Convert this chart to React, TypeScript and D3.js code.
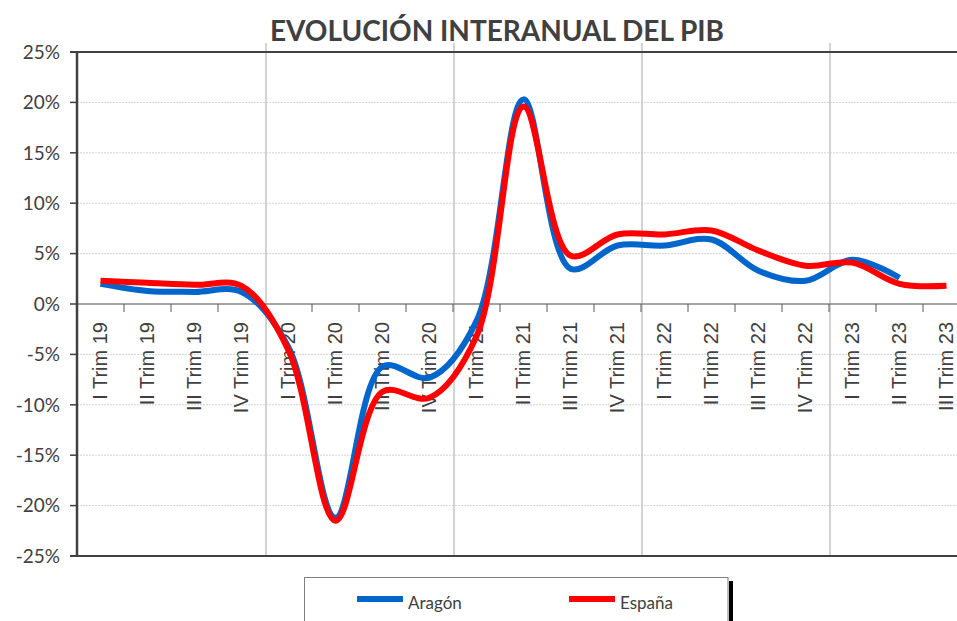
import React from 'react';
import * as d3 from 'd3';

const quarters = [
  'I Trim 19', 'II Trim 19', 'III Trim 19', 'IV Trim 19',
  'I Trim 20', 'II Trim 20', 'III Trim 20', 'IV Trim 20',
  'I Trim 21', 'II Trim 21', 'III Trim 21', 'IV Trim 21',
  'I Trim 22', 'II Trim 22', 'III Trim 22', 'IV Trim 22',
  'I Trim 23', 'II Trim 23', 'III Trim 23',
];

const aragon = [2.0, 1.3, 1.2, 1.2, -4.3, -21.2, -6.2, -7.3, -1.7, 20.3, 3.5, 5.8, 5.8, 6.4, 3.3, 2.3, 4.4, 2.6, null];
const espana = [2.3, 2.1, 1.9, 1.8, -4.6, -21.5, -8.7, -9.3, -3.2, 19.6, 4.8, 6.9, 6.9, 7.3, 5.3, 3.8, 4.1, 2.0, 1.8];

const yTicks = [25, 20, 15, 10, 5, 0, -5, -10, -15, -20, -25];

const series = [
  { name: 'Aragón', color: '#0066CC', values: aragon },
  { name: 'España', color: '#FF0000', values: espana },
];

const width = 957;
const height = 621;
const left = 77;
const top = 52;
const bottom = 556;
const step = 47;

const grey = '#404040';
const latoFont = 'Lato, "Open Sans", sans-serif';

const App = () => {
  const x = d3.scaleBand()
    .domain(quarters)
    .range([left, left + step * quarters.length])
    .padding(0);

  const y = d3.scaleLinear().domain([-25, 25]).range([bottom, top]);

  const cx = (q: string) => (x(q) as number) + x.bandwidth() / 2;

  const line = d3.line<number | null>()
    .defined(d => d !== null)
    .x((_, i) => cx(quarters[i]))
    .y(d => y(d as number))
    .curve(d3.curveCatmullRom.alpha(0.5));

  const yearStarts = quarters.filter((q, i) => i > 0 && q.startsWith('I Trim'));

  return (
    <svg width={width} height={height} style={{ position: 'absolute', left: 0, top: 0, background: '#fff' }}>
      <rect width={width} height={height} fill="#fff" />
      <text x={497} y={41} textAnchor="middle" fontFamily={latoFont} fontWeight="bold" fontSize={28} fill={grey}>
        EVOLUCIÓN INTERANUAL DEL PIB
      </text>

      {/* gridlines */}
      {yTicks.filter(t => t !== 25 && t !== -25 && t !== 0).map(t => (
        <line key={t} x1={left} x2={width} y1={y(t)} y2={y(t)} stroke="#d4d4d4" strokeWidth={1} strokeDasharray="2,1" />
      ))}

      {/* year separators */}
      {yearStarts.map(q => (
        <line key={q} x1={(x(q) as number) + 1} x2={(x(q) as number) + 1} y1={43} y2={bottom} stroke="#c4c4c4" strokeWidth={1.5} />
      ))}

      {/* zero axis + category ticks */}
      <line x1={left} x2={width} y1={y(0)} y2={y(0)} stroke="#868686" strokeWidth={1.5} />
      {quarters.map(q => (
        <line key={q} x1={(x(q) as number) + step} x2={(x(q) as number) + step} y1={y(0)} y2={y(0) + 8} stroke="#595959" strokeWidth={1} />
      ))}

      {/* frame */}
      <line x1={70} x2={width} y1={top} y2={top} stroke={grey} strokeWidth={2} />
      <line x1={70} x2={width} y1={bottom} y2={bottom} stroke={grey} strokeWidth={2} />
      <line x1={left} x2={left} y1={top} y2={bottom} stroke={grey} strokeWidth={2.5} />

      {/* y axis */}
      {yTicks.map(t => (
        <g key={t}>
          <line x1={70} x2={left} y1={y(t)} y2={y(t)} stroke={grey} strokeWidth={1.5} />
          <text x={60} y={y(t)} dy="0.36em" textAnchor="end" fontFamily={latoFont} fontSize={19} fill={grey}>
            {t}%
          </text>
        </g>
      ))}

      {/* x labels */}
      {quarters.map(q => (
        <text key={q} transform={`translate(${cx(q) - 0.5},322) rotate(-90)`} dy="0.35em" textAnchor="end"
          fontFamily='"Liberation Sans", Arial, sans-serif' fontSize={20} fill={grey}>
          {q}
        </text>
      ))}

      {/* series */}
      {series.map(s => (
        <path key={s.name} d={line(s.values) || ''} fill="none" stroke={s.color} strokeWidth={6} strokeLinejoin="round" />
      ))}

      {/* legend */}
      <rect x={729} y={581} width={4} height={50} fill="#000" />
      <rect x={304.5} y={577.5} width={423.5} height={60} fill="#fff" stroke="#7f7f7f" strokeWidth={1} />
      {series.map((s, i) => {
        const lx = 357 + i * 212;
        return (
          <g key={s.name}>
            <line x1={lx} x2={lx + 46} y1={599} y2={599} stroke={s.color} strokeWidth={6} />
            <text x={lx + 51} y={609} fontFamily={latoFont} fontSize={17} fill={grey}>{s.name}</text>
          </g>
        );
      })}
    </svg>
  );
};

export default App;
